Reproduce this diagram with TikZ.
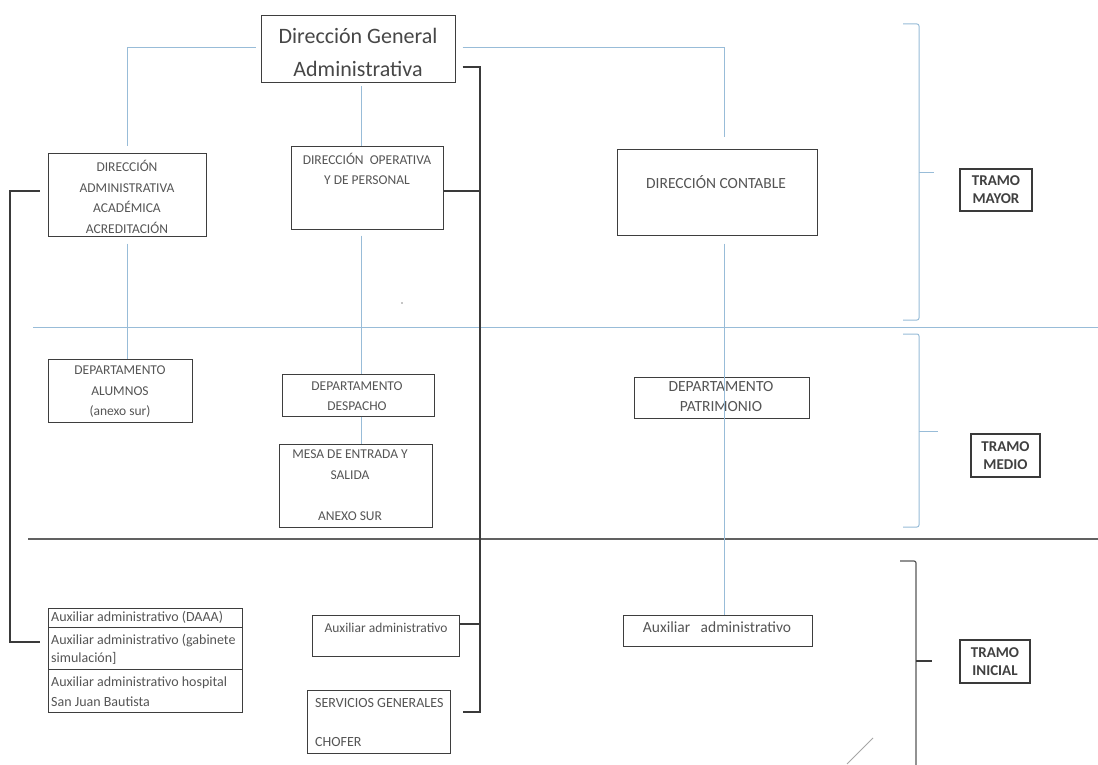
\documentclass[tikz,border=0pt]{standalone}
\usepackage{fontspec}
\setmainfont{Carlito}
\definecolor{boxc}{HTML}{3E3E3E}
\definecolor{bluec}{HTML}{98BCD8}
\definecolor{darkc}{HTML}{3A3A3A}
\definecolor{textc}{HTML}{555555}
\begin{document}
\begin{tikzpicture}[x=1pt,y=-1pt,
  box/.style={draw=boxc, line width=1pt, inner sep=0pt, rectangle},
  bl/.style={draw=bluec, line width=1pt},
  dk/.style={draw=darkc, line width=1.3pt},
  brk/.style={line width=1pt, rounded corners=2pt},
  txt/.style={text=textc, inner sep=0pt, align=center, font=\fontsize{13.5}{20.5}\selectfont},
  txtb/.style={text=textc, inner sep=0pt, align=center, font=\fontsize{15.5}{20}\selectfont},
  txtl/.style={text=textc, inner sep=0pt, align=left, anchor=west, font=\fontsize{14}{18}\selectfont},
  tramo/.style={draw=darkc, line width=1.2pt, inner sep=0pt, align=center, text=black!75, font=\bfseries\fontsize{15}{18}\selectfont},
]
\useasboundingbox (0,0) rectangle (1098,765);
\fill[white] (0,0) rectangle (1098,765);

% boxes
\node[box, minimum width=194, minimum height=67] (dga) at (358,49.5) {};
\node[text=black!72, inner sep=0pt, align=center, font=\fontsize{22}{33}\selectfont] (dgat) at (358,52) {Dirección General\\Administrativa};

\node[box, minimum width=158, minimum height=82] (daaa) at (127,195) {};
\node[txt] (daaat) at (127,197) {DIRECCIÓN\\ADMINISTRATIVA\\ACADÉMICA\\ACREDITACIÓN};

\node[box, minimum width=152, minimum height=82] (dop) at (367,188) {};
\node[txt] (dopt) at (367,169) {DIRECCIÓN\ \ OPERATIVA\\Y DE PERSONAL};

\node[box, minimum width=200, minimum height=85] (cont) at (717,192.5) {};
\node[txtb] (contt) at (716,182) {DIRECCIÓN CONTABLE};

\node[box, minimum width=144, minimum height=63] (alum) at (120,390.5) {};
\node[txt] (alumt) at (120,392) {DEPARTAMENTO\\ALUMNOS\\(anexo sur)};

\node[box, minimum width=152, minimum height=42] (desp) at (358,395) {};
\node[txt] (despt) at (357,396) {DEPARTAMENTO\\DESPACHO};

\node[box, minimum width=153, minimum height=83] (mesa) at (355.5,485.5) {};
\node[txt] (mesat) at (350,485) {MESA DE ENTRADA Y\\SALIDA\\[20.5pt]ANEXO SUR};

\node[box, minimum width=175, minimum height=41] (patr) at (721.5,397.5) {};
\node[txtb] (patrt) at (721,397) {DEPARTAMENTO\\PATRIMONIO};

% stacked box
\node[box, minimum width=194, minimum height=104] (stk) at (145,660) {};
\coordinate (stkd1) at (48,627);
\coordinate (stkd2) at (48,669);
\draw[draw=boxc, line width=1pt] (stkd1) -- (stkd1 -| stk.east);
\draw[draw=boxc, line width=1pt] (stkd2) -- (stkd2 -| stk.east);
\node[txtl] (stk1) at (51,617) {Auxiliar administrativo (DAAA)};
\node[txtl] (stk2) at (51,649) {Auxiliar administrativo (gabinete\\simulación]};
\node[txtl, font=\fontsize{14}{20}\selectfont] (stk3) at (51,692) {Auxiliar administrativo hospital\\San Juan Bautista};

\node[box, minimum width=147, minimum height=41] (auxm) at (385.5,635.5) {};
\node[txt] (auxmt) at (386,628) {Auxiliar administrativo};

\node[box, minimum width=143, minimum height=63] (serv) at (378.5,721.5) {};
\node[txtl] (servt1) at (315,703) {SERVICIOS GENERALES};
\node[txtl] (servt2) at (315,742) {CHOFER};

\node[box, minimum width=189, minimum height=31] (auxr) at (717.5,630.5) {};
\node[txtb] (auxrt) at (717,627) {Auxiliar\ \ \ administrativo};

% tramo labels
\node[tramo, minimum width=72, minimum height=42] (tmay) at (996,190) {TRAMO\\MAYOR};
\node[tramo, minimum width=69, minimum height=43] (tmed) at (1005.5,455.5) {TRAMO\\MEDIO};
\node[tramo, minimum width=70, minimum height=43] (tini) at (995,661.5) {TRAMO\\INICIAL};

% separators
\coordinate (s1a) at (33,327); \coordinate (s1b) at (1098,327);
\coordinate (s2a) at (28,539); \coordinate (s2b) at (1098,539);
\draw[bl] (s1a) -- (s1b);
\draw[dk, line width=1.1pt, draw=darkc!80] (s2a) -- (s2b);

% blue connectors
\coordinate (bl1) at (127,48);
\coordinate (br1) at (724,48);
\draw[bl] ([xshift=-5]dga.west |- bl1) -- (bl1) -- ([yshift=7]daaa.north);
\draw[bl] ([xshift=7]dga.east |- br1) -- (br1) -- ([yshift=12]br1 |- cont.north);
\coordinate (opx) at (361,0);
\draw[bl] ([yshift=-3]dga.south -| opx) -- (dop.north -| opx);
\draw[bl] ([yshift=-7]daaa.south) -- (alum.north -| daaa.south);
\draw[bl] ([yshift=-6]dop.south -| opx) -- (desp.north -| opx);
\draw[bl] (desp.south -| opx) -- (mesa.north -| opx);
\draw[bl] ([yshift=-8]cont.south -| br1) -- (auxr.north -| br1);

% dark connectors
\coordinate (dv1) at (480,67);
\coordinate (dv2) at (480,712);
\draw[dk] ([xshift=7]dga.east |- dv1) -- (dv1) -- (dv2) -- ([xshift=12]serv.east |- dv2);
\draw[dk] (dop.east |- 0,191) -- (dv1 |- 0,191);
\draw[dk] (auxm.east |- 0,624) -- (dv1 |- 0,624);
\coordinate (lv1) at (10,191);
\coordinate (lv2) at (10,642);
\draw[dk, line width=1.1pt] ([xshift=-8]daaa.west |- lv1) -- (lv1) -- (lv2) -- ([xshift=-8]stk.west |- lv2);

% brackets
\coordinate (b1t) at (919,24); \coordinate (b1b) at (919,320);
\draw[bl, brk] (903,24) -- (b1t) -- (b1b) -- (903,320);
\draw[bl] (919,173) -- (934,173);
\coordinate (b2t) at (919,334); \coordinate (b2b) at (919,527);
\draw[bl, brk] (903,334) -- (b2t) -- (b2b) -- (903,527);
\draw[bl] (919,431) -- (938,431);
\coordinate (b3t) at (916,561); \coordinate (b3b) at (916,765);
\draw[draw=darkc!85, brk, line width=1.2pt] (900,561) -- (b3t) -- (b3b);
\draw[draw=darkc, line width=2pt] (916,661) -- (932,661);

% scan marks
\draw[draw=black!35, line width=0.8pt] (847,764) -- (873,738);
\fill[black!45] (402,303) circle (0.9);
\end{tikzpicture}
\end{document}
